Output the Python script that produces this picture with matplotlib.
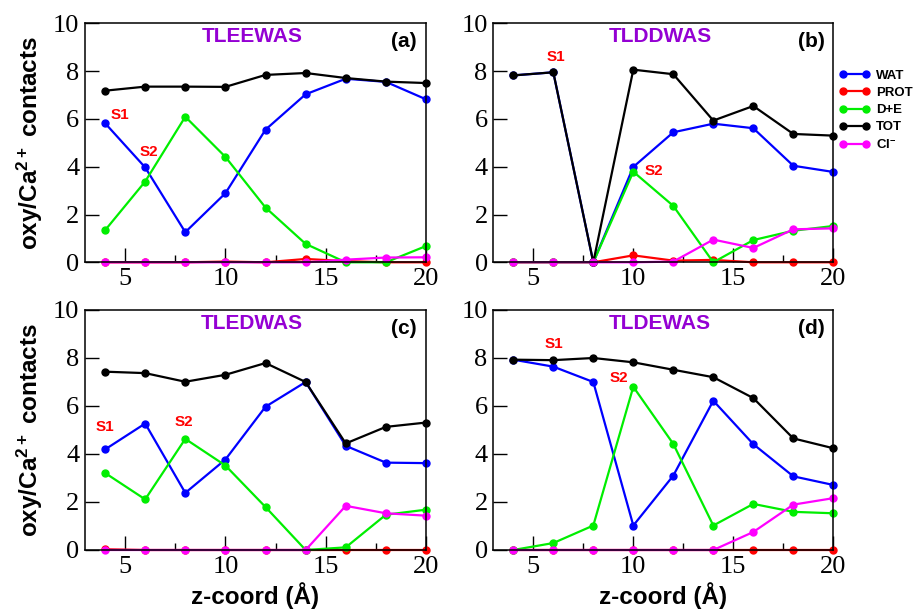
import numpy as np
import matplotlib
matplotlib.use("Agg")
import matplotlib.pyplot as plt
from matplotlib.ticker import MultipleLocator

# tick numbers are serif, everything else is bold sans
plt.rcParams['font.family'] = ['Liberation Serif', 'DejaVu Serif']
plt.rcParams['mathtext.fontset'] = 'custom'
plt.rcParams['mathtext.rm'] = 'Liberation Sans:bold'
plt.rcParams['mathtext.bf'] = 'Liberation Sans:bold'
plt.rcParams['mathtext.default'] = 'bf'
SANS = ['Liberation Sans', 'DejaVu Sans']

# z-coordinate (angstrom)
z = [4, 6, 8, 10, 12, 14, 16, 18, 20]

series_names = ['WAT', 'PROT', 'D+E', 'TOT', 'Cl$^{-}$']
series_colors = ['#0000ff', '#ff0000', '#00ee00', '#000000', '#ff00ff']

# (a) TLEEWAS
a_wat = [5.82, 3.97, 1.26, 2.89, 5.55, 7.03, 7.68, 7.55, 6.82]
a_prot = [0.0, 0.0, 0.0, 0.03, 0.0, 0.14, 0.05, 0.0, 0.0]
a_de = [1.34, 3.38, 6.09, 4.41, 2.29, 0.77, 0.0, 0.0, 0.68]
a_tot = [7.18, 7.35, 7.35, 7.34, 7.84, 7.92, 7.71, 7.56, 7.50]
a_cl = [0.0, 0.0, 0.0, 0.0, 0.0, 0.0, 0.11, 0.20, 0.21]

# (b) TLDDWAS
b_wat = [7.82, 7.95, 0.0, 3.99, 5.44, 5.80, 5.61, 4.04, 3.78]
b_prot = [0.0, 0.0, 0.0, 0.29, 0.07, 0.10, 0.0, 0.0, 0.0]
b_de = [0.0, 0.0, 0.0, 3.79, 2.36, 0.0, 0.93, 1.32, 1.52]
b_tot = [7.82, 7.95, 0.0, 8.06, 7.87, 5.93, 6.54, 5.37, 5.30]
b_cl = [0.0, 0.0, 0.0, 0.0, 0.03, 0.95, 0.60, 1.38, 1.42]

# (c) TLEDWAS
c_wat = [4.19, 5.27, 2.38, 3.77, 5.97, 7.00, 4.34, 3.64, 3.62]
c_prot = [0.03, 0.0, 0.0, 0.0, 0.0, 0.0, 0.0, 0.0, 0.0]
c_de = [3.21, 2.11, 4.63, 3.52, 1.79, 0.0, 0.11, 1.47, 1.68]
c_tot = [7.43, 7.37, 7.01, 7.30, 7.79, 7.00, 4.44, 5.13, 5.31]
c_cl = [0.0, 0.0, 0.0, 0.0, 0.0, 0.0, 1.84, 1.53, 1.43]

# (d) TLDEWAS
d_wat = [7.93, 7.64, 7.00, 1.02, 3.10, 6.22, 4.41, 3.07, 2.71]
d_prot = [0.0, 0.0, 0.0, 0.0, 0.0, 0.0, 0.0, 0.0, 0.0]
d_de = [0.0, 0.29, 1.02, 6.80, 4.42, 1.02, 1.92, 1.59, 1.53]
d_tot = [7.93, 7.91, 8.00, 7.82, 7.51, 7.20, 6.33, 4.65, 4.24]
d_cl = [0.0, 0.0, 0.0, 0.0, 0.0, 0.0, 0.75, 1.89, 2.16]

titles = ['TLEEWAS', 'TLDDWAS', 'TLEDWAS', 'TLDEWAS']
tags = ['(a)', '(b)', '(c)', '(d)']
panels = [
    [a_wat, a_prot, a_de, a_tot, a_cl],
    [b_wat, b_prot, b_de, b_tot, b_cl],
    [c_wat, c_prot, c_de, c_tot, c_cl],
    [d_wat, d_prot, d_de, d_tot, d_cl],
]
# site labels (x, y) per panel
s1_pos = [(4.75, 6.16), (6.12, 8.6), (4.0, 5.14), (6.03, 8.58)]
s2_pos = [(6.2, 4.6), (11.03, 3.83), (7.95, 5.35), (9.3, 7.15)]

fig = plt.figure(figsize=(9.16, 6.11), dpi=100)
rects = [
    [85/916, 1 - 262.3/611, 341/916, 239/611],
    [493.3/916, 1 - 262.3/611, 340/916, 239/611],
    [85/916, 1 - 550/611, 341/916, 240/611],
    [493.3/916, 1 - 550/611, 340/916, 240/611],
]

axes = []
for i in range(4):
    ax = fig.add_axes(rects[i])
    axes.append(ax)
    for vals, name, col in zip(panels[i], series_names, series_colors):
        ax.plot(z, vals, '-o', color=col, lw=1.6, ms=5, label=name, clip_on=False)
    ax.set_xlim(3, 20)
    ax.set_ylim(0, 10)
    ax.xaxis.set_major_locator(MultipleLocator(5))
    ax.xaxis.set_minor_locator(MultipleLocator(2.5))
    ax.yaxis.set_major_locator(MultipleLocator(2))
    ax.tick_params(which='both', direction='in', top=False, right=False, width=1)
    ax.tick_params(which='major', length=10)
    ax.tick_params(which='minor', length=5)
    ax.tick_params(axis='both', labelsize=19, pad=4)
    for sp in ax.spines.values():
        sp.set_linewidth(1.1)
    ax.text(0.49, 0.945, titles[i], transform=ax.transAxes, ha='center', va='center',
            color='#9400d3', fontsize=15, fontweight='bold', family=SANS)
    ax.text(0.935, 0.925, tags[i], transform=ax.transAxes, ha='center', va='center',
            color='black', fontsize=15, fontweight='bold', family=SANS)
    ax.text(s1_pos[i][0], s1_pos[i][1], 'S1', color='red', fontsize=11,
            fontweight='bold', ha='center', va='center', family=SANS)
    ax.text(s2_pos[i][0], s2_pos[i][1], 'S2', color='red', fontsize=11,
            fontweight='bold', ha='center', va='center', family=SANS)

for ax in (axes[0], axes[2]):
    ax.set_ylabel('oxy/Ca$^{2+}$ contacts', fontsize=17.5, fontweight='bold',
                  labelpad=6, family=SANS)
for ax in (axes[2], axes[3]):
    ax.set_xlabel('z-coord (\u00c5)', fontsize=17.5, fontweight='bold',
                  labelpad=3, family=SANS)

leg = axes[1].legend(loc='upper left', bbox_to_anchor=(0.995, 0.84), frameon=False,
                     numpoints=2, handlelength=2.3, handletextpad=0.45,
                     labelspacing=0.38, borderaxespad=0.2,
                     prop={'weight': 'bold', 'size': 9.5, 'family': SANS})

fig.savefig('out.png', dpi=100)
